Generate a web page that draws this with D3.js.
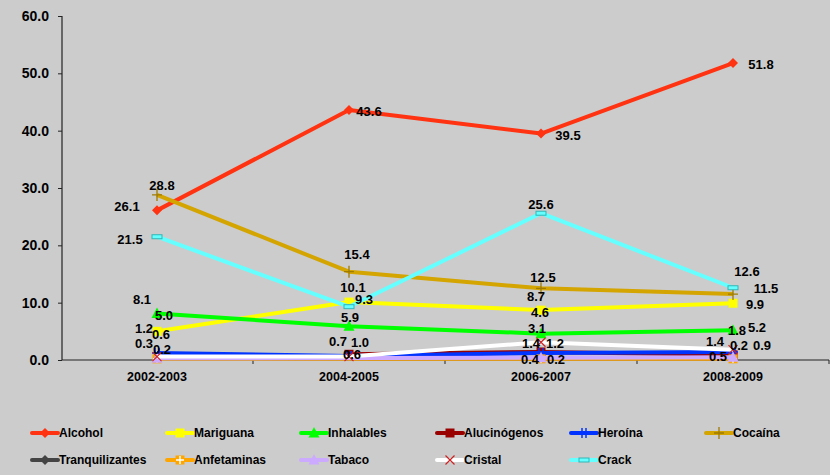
<!DOCTYPE html>
<html><head><meta charset="utf-8">
<script src="https://cdn.jsdelivr.net/npm/d3@7"></script>
<style>
html,body{margin:0;padding:0;background:#cccccc;}
svg{display:block;}
text{font-family:"Liberation Sans",Arial,sans-serif;font-weight:bold;fill:#000;}
</style></head>
<body>
<svg id="chart" width="830" height="475"></svg>
<script>
// ---- data ----
const categories = ["2002-2003", "2004-2005", "2006-2007", "2008-2009"];
const alcohol         = [26.1, 43.6, 39.5, 51.8];
const mariguana       = [5.0, 10.1, 8.7, 9.9];
const inhalables      = [8.1, 5.9, 4.6, 5.2];
const alucinogenos    = [null, 1.0, 1.4, 0.9];
const heroina         = [1.2, 0.7, 1.2, 1.4];
const cocaina         = [28.8, 15.4, 12.5, 11.5];
const tranquilizantes = [null, null, null, null];
const anfetaminas     = [0.2, null, 0.2, 0.2];
const tabaco          = [0.3, null, 0.4, 0.5];
const cristal         = [0.6, 0.6, 3.1, 1.8];
const crack           = [21.5, 9.3, 25.6, 12.6];
const yTicks = [0, 10, 20, 30, 40, 50, 60];
const seriesNames = ["Alcohol","Mariguana","Inhalables","Alucinógenos","Heroína","Cocaína",
                     "Tranquilizantes","Anfetaminas","Tabaco","Cristal","Crack"];
const seriesValues = [alcohol, mariguana, inhalables, alucinogenos, heroina, cocaina,
                      tranquilizantes, anfetaminas, tabaco, cristal, crack];

// ---- style (not data) ----
const styles = {
  "Alcohol":        {color:"#ff3311", marker:"diamond"},
  "Mariguana":      {color:"#ffff00", marker:"square"},
  "Inhalables":     {color:"#00ff00", marker:"triangle"},
  "Alucinógenos":   {color:"#990000", marker:"square"},
  "Heroína":        {color:"#0033ff", marker:"star"},
  "Cocaína":        {color:"#d4a400", marker:"plus"},
  "Tranquilizantes":{color:"#444444", marker:"diamond"},
  "Anfetaminas":    {color:"#ffa500", marker:"squarePlus"},
  "Tabaco":         {color:"#ccaaff", marker:"triangle"},
  "Cristal":        {color:"#ffffff", marker:"x"},
  "Crack":          {color:"#66ffff", marker:"bar"}
};
// label offsets relative to the point, in px
const labelOffsets = {
  "Alcohol":      [[-30,-4],[20,1],[27,2],[28,1]],
  "Mariguana":    [[7,-16],[4,-15],[-5,-14],[22,1]],
  "Inhalables":   [[-15,-14],[1,-9],[-1,-21],[24,-3]],
  "Alucinógenos": [null,[11,-12],[-10,-8],[29,-9]],
  "Heroína":      [[-13,-25],[-11,-14],[14,-10],[-18,-10]],
  "Cocaína":      [[5,-9],[8,-17],[2,-11],[33,-6]],
  "Tranquilizantes":[null,null,null,null],
  "Anfetaminas":  [[5,-9],null,[15,1],[6,-13]],
  "Tabaco":       [[-13,-15],null,[-11,2],[-15,-1]],
  "Cristal":      [[4,-22],[3,-2],[-4,-14],[4,-19]],
  "Crack":        [[-27,3],[15,-7],[0,-9],[14,-16]]
};

const svg = d3.select("#chart");
const x = d3.scaleBand().domain(categories).range([61, 829]).paddingInner(0).paddingOuter(0);
const y = d3.scaleLinear().domain([0, 60]).range([360, 16]);
const fmt = d3.format(".1f");
const cx = c => x(c) + x.bandwidth() / 2;

// axes
const yAxis = svg.append("g").attr("transform", "translate(62,0)")
  .call(d3.axisLeft(y).tickValues(yTicks).tickFormat(fmt).tickSize(4).tickPadding(9));
yAxis.select(".domain").attr("stroke", "#222").attr("stroke-width", 1.2).attr("d", "M0,16V360");
yAxis.selectAll(".tick line").attr("stroke", "#222");
yAxis.selectAll(".tick text").style("font-size", "14px").attr("font-family", null);

const xAxis = svg.append("g").attr("transform", "translate(0,360)")
  .call(d3.axisBottom(x).tickSize(0).tickPadding(12));
xAxis.select(".domain").attr("stroke", "#222").attr("stroke-width", 1.2).attr("d", "M62,0H829");
xAxis.selectAll(".tick text").style("font-size", "12.5px").attr("font-family", null);
xAxis.selectAll(".bound").data(categories).enter().append("line")
  .attr("x1", c => x(c) + x.bandwidth()).attr("x2", c => x(c) + x.bandwidth())
  .attr("y1", 0).attr("y2", 4).attr("stroke", "#222");

function drawMarker(g, type, color) {
  switch (type) {
    case "diamond":
      g.append("path").attr("d", "M0,-5L5,0L0,5L-5,0Z").attr("fill", color); break;
    case "square":
      g.append("rect").attr("x", -4.5).attr("y", -4.5).attr("width", 9).attr("height", 9).attr("fill", color); break;
    case "triangle":
      g.append("path").attr("d", "M0,-6L5.5,4.5L-5.5,4.5Z").attr("fill", color); break;
    case "star":
      g.append("path").attr("d", "M-2,-5V5M2,-5V5M-5,0H5").attr("stroke", color).attr("stroke-width", 1.5); break;
    case "plus":
      g.append("path").attr("d", "M-5,0H5M0,-6V6").attr("stroke", d3.color(color).darker(0.8)).attr("stroke-width", 1.3); break;
    case "squarePlus":
      g.append("rect").attr("x", -4.5).attr("y", -4.5).attr("width", 9).attr("height", 9).attr("fill", color);
      g.append("path").attr("d", "M-4,0H4M0,-4V4").attr("stroke", "#fff").attr("stroke-width", 1.5); break;
    case "x":
      g.append("path").attr("d", "M-4.5,-4.5L4.5,4.5M-4.5,4.5L4.5,-4.5").attr("stroke", "#cc2222").attr("stroke-width", 1.2); break;
    case "bar":
      g.append("rect").attr("x", -5).attr("y", -2).attr("width", 10).attr("height", 4)
        .attr("fill", color).attr("stroke", "#33b5b5").attr("stroke-width", 1); break;
  }
}

const line = d3.line().x(d => cx(d.c)).y(d => y(d.v));
const plot = svg.append("g");
const labelLayer = svg.append("g");

seriesNames.forEach((name, i) => {
  const st = styles[name];
  const pts = categories.map((c, j) => ({c, v: seriesValues[i][j], j})).filter(d => d.v != null);
  if (!pts.length) return;
  plot.append("path").datum(pts).attr("d", line)
    .attr("fill", "none").attr("stroke", st.color).attr("stroke-width", 4)
    .attr("stroke-linejoin", "round");
  pts.forEach(d => {
    const g = plot.append("g").attr("transform", `translate(${cx(d.c)},${y(d.v)})`);
    drawMarker(g, st.marker, st.color);
    const off = labelOffsets[name][d.j] || [0, -10];
    labelLayer.append("text").attr("x", cx(d.c) + off[0]).attr("y", y(d.v) + off[1])
      .attr("text-anchor", "middle").attr("dominant-baseline", "central")
      .style("font-size", "13px").text(fmt(d.v));
  });
});

// legend
const legCols = [32, 167, 301, 437, 571, 706];
const legRows = [433, 460];
const legend = svg.append("g");
seriesNames.forEach((name, i) => {
  const st = styles[name];
  const lx = legCols[i % 6], ly = legRows[Math.floor(i / 6)];
  const g = legend.append("g").attr("transform", `translate(${lx},${ly})`);
  g.append("line").attr("x1", 0).attr("x2", 26).attr("y1", 0).attr("y2", 0)
    .attr("stroke", st.color).attr("stroke-width", 4).attr("stroke-linecap", "round");
  const m = g.append("g").attr("transform", "translate(13,0)");
  drawMarker(m, st.marker, st.color);
  g.append("text").attr("x", 27).attr("y", 0).attr("dominant-baseline", "central")
    .style("font-size", "12px").text(name);
});
</script>
</body></html>
